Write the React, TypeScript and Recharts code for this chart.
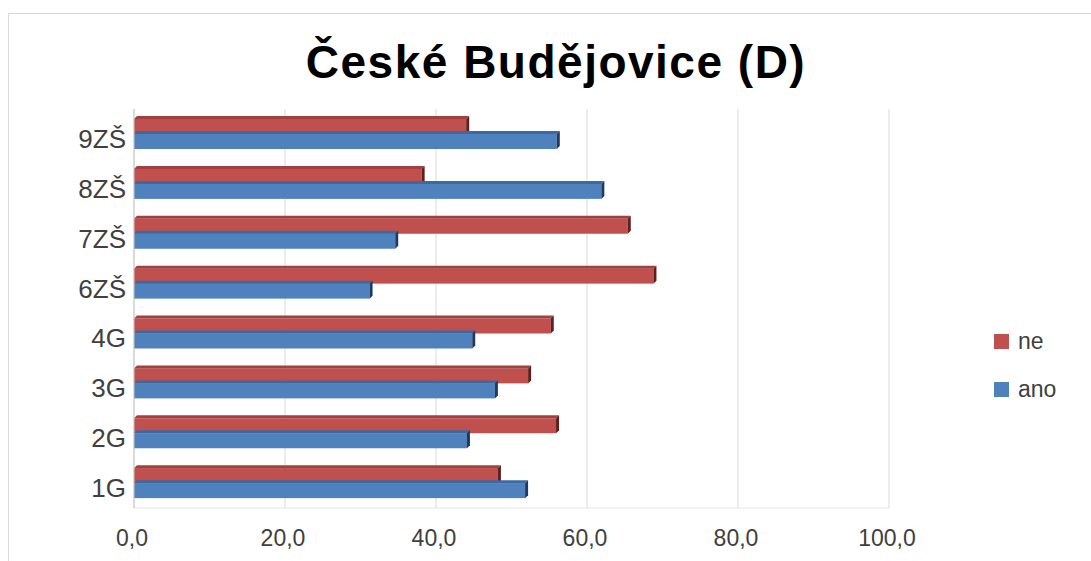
import React from "react";
import { BarChart, Bar, XAxis, YAxis, CartesianGrid } from "recharts";

const categories = ["9ZŠ", "8ZŠ", "7ZŠ", "6ZŠ", "4G", "3G", "2G", "1G"];
const neValues = [44.0, 38.1, 65.4, 68.8, 55.2, 52.2, 55.9, 48.2];
const anoValues = [56.0, 61.9, 34.6, 31.2, 44.8, 47.8, 44.1, 51.8];
const xTicks = [0, 20, 40, 60, 80, 100];
const title = "České Budějovice (D)";
const seriesNames = ["ne", "ano"];

const data = categories.map((c, i) => ({ cat: c, ne: neValues[i], ano: anoValues[i] }));

const FONT = "'Liberation Sans', Arial, Helvetica, sans-serif";

const makeShape = (face: string, top: string, cap: string) => (props: any) => {
  const { x, y, width, height } = props;
  if (width == null || height == null) return null;
  const d = 3;
  const w = Math.max(width, 0);
  return (
    <g>
      <rect x={x} y={y} width={w} height={height} fill={face} />
      <polygon
        points={`${x},${y} ${x + d},${y - d} ${x + w + d},${y - d} ${x + w},${y}`}
        fill={top}
      />
      <polygon
        points={`${x + w},${y} ${x + w + d},${y - d} ${x + w + d},${y + height - d} ${x + w},${y + height}`}
        fill={cap}
      />
    </g>
  );
};

const NeShape = makeShape("#C0504D", "#A33F3C", "#5E1F1D");
const AnoShape = makeShape("#4F81BD", "#3B69A0", "#1F3A60");

const YTick = (props: any) => {
  const { x, y, payload } = props;
  return (
    <text
      x={x}
      y={y + 5}
      textAnchor="end"
      dominantBaseline="central"
      fontSize={26}
      fill="#404040"
      fontFamily={FONT}
    >
      {payload.value}
    </text>
  );
};

const XTick = (props: any) => {
  const { x, y, payload } = props;
  return (
    <text
      x={x - 2}
      y={y + 30}
      textAnchor="middle"
      dominantBaseline="central"
      fontSize={23}
      fill="#404040"
      fontFamily={FONT}
    >
      {Number(payload.value).toFixed(1).replace(".", ",")}
    </text>
  );
};

const legendColors = ["#C0504D", "#4F81BD"];

export default function App() {
  return (
    <div
      style={{
        position: "absolute",
        left: 0,
        top: 0,
        width: 1091,
        height: 561,
        overflow: "hidden",
        background: "#ffffff",
        fontFamily: FONT,
      }}
    >
      <div
        style={{
          position: "absolute",
          left: 8,
          top: 13,
          width: 1200,
          height: 700,
          border: "1px solid #d9d9d9",
        }}
      />
      <div
        style={{
          position: "absolute",
          left: 0,
          top: 39,
          width: 1112,
          textAlign: "center",
          fontSize: 46,
          lineHeight: "46px",
          fontWeight: "bold",
          letterSpacing: 1.5,
          color: "#000",
          fontFamily: FONT,
          whiteSpace: "nowrap",
        }}
      >
        {title}
      </div>
      <div style={{ position: "absolute", left: 0, top: 0 }}>
        <BarChart
          width={1091}
          height={561}
          data={data}
          layout="vertical"
          margin={{ top: 109, right: 202, bottom: 13, left: 34 }}
          barGap={0}
          barSize={15}
        >
          <CartesianGrid horizontal={false} stroke="#d9d9d9" />
          <XAxis
            type="number"
            domain={[0, 100]}
            ticks={xTicks}
            axisLine={{ stroke: "#e6e6e6" }}
            tickLine={false}
            tickSize={0}
            tickMargin={0}
            height={40}
            tick={<XTick />}
            interval={0}
          />
          <YAxis
            type="category"
            dataKey="cat"
            width={100}
            axisLine={{ stroke: "#c8c8c8" }}
            tickLine={false}
            tickSize={0}
            tickMargin={8}
            tick={<YTick />}
            interval={0}
          />
          <Bar dataKey="ne" name="ne" fill="#C0504D" shape={NeShape} isAnimationActive={false} />
          <Bar dataKey="ano" name="ano" fill="#4F81BD" shape={AnoShape} isAnimationActive={false} />
        </BarChart>
      </div>
      {seriesNames.map((n, i) => (
        <div
          key={n}
          style={{
            position: "absolute",
            left: 994,
            top: 341 + i * 48 - 13,
            height: 26,
            display: "flex",
            alignItems: "center",
          }}
        >
          <div style={{ width: 15, height: 15, background: legendColors[i], marginRight: 9 }} />
          <span style={{ fontSize: 23, color: "#404040", fontFamily: FONT }}>{n}</span>
        </div>
      ))}
    </div>
  );
}
